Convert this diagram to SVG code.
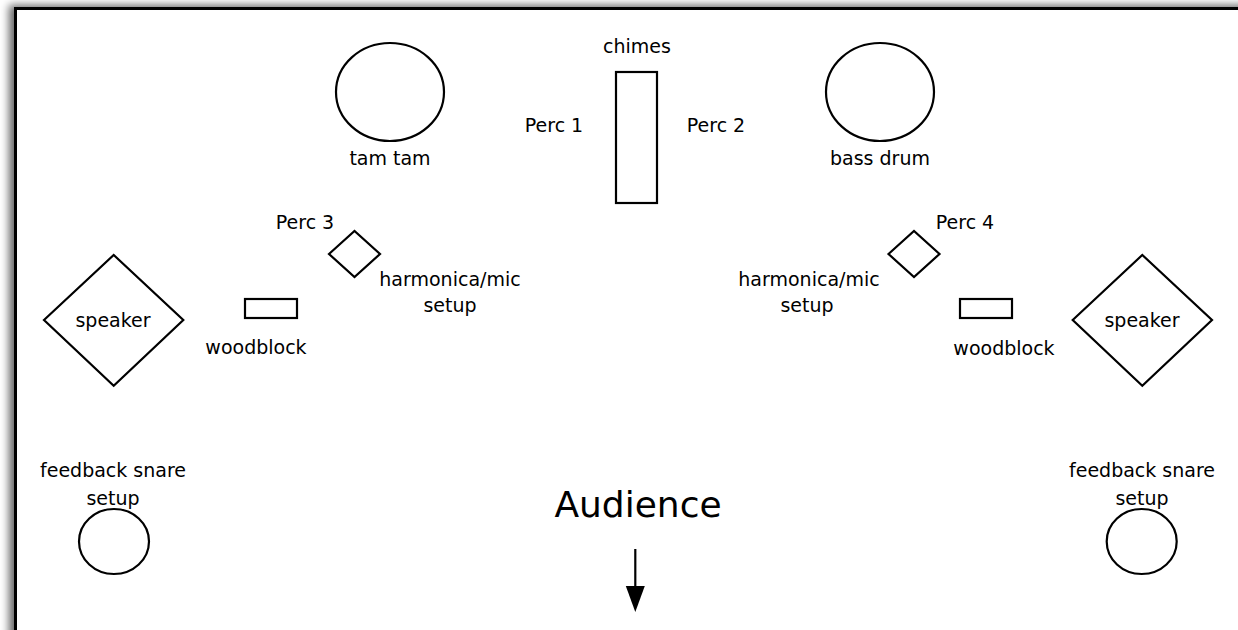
<svg xmlns="http://www.w3.org/2000/svg" width="1238" height="630" viewBox="0 0 1238 630">
<style>
.s{fill:none;stroke:#000;stroke-width:2.2}
text{font-family:"DejaVu Sans",Futura,sans-serif;font-size:19px;fill:#000;text-anchor:middle}
.big{font-size:36px}
</style>
<defs>
<filter id="sh" x="-5%" y="-5%" width="110%" height="110%">
<feDropShadow dx="-5" dy="-2" stdDeviation="4" flood-color="#000" flood-opacity="0.6"/>
</filter>
</defs>
<rect width="1238" height="630" fill="#fff"/>
<rect id="frame" x="15.5" y="8.5" width="1300" height="700" fill="#fff" stroke="#000" stroke-width="3" filter="url(#sh)"/>

<g id="tamtam"><ellipse class="s" cx="390" cy="92" rx="54" ry="49"/><text x="390" y="165">tam tam</text></g>
<g id="bassdrum"><ellipse class="s" cx="880" cy="92" rx="54" ry="49"/><text x="880" y="165">bass drum</text></g>
<g id="chimes"><rect class="s" x="616" y="72" width="41" height="131"/><text x="637" y="53">chimes</text></g>
<g id="perc1"><text x="554" y="132">Perc 1</text></g>
<g id="perc2"><text x="716" y="132">Perc 2</text></g>

<g id="perc3"><text x="305" y="229">Perc 3</text></g>
<g id="harmonica-left"><polygon class="s" points="329,254 354.5,231 380,254 354.5,277"/><text x="450" y="286">harmonica/mic</text><text x="450" y="312">setup</text></g>
<g id="woodblock-left"><rect class="s" x="245" y="299" width="52" height="19"/><text x="256" y="354">woodblock</text></g>
<g id="speaker-left"><polygon class="s" points="44,320 113.7,255 183.3,320 113.7,385.7"/><text x="113" y="327">speaker</text></g>
<g id="snare-left"><ellipse class="s" cx="114" cy="541.5" rx="35" ry="32.5"/><text x="113" y="477">feedback snare</text><text x="113" y="505">setup</text></g>

<g id="perc4"><text x="965" y="229">Perc 4</text></g>
<g id="harmonica-right"><polygon class="s" points="888.5,254 914,231 939.5,254 914,277"/><text x="809" y="286">harmonica/mic</text><text x="807" y="312">setup</text></g>
<g id="woodblock-right"><rect class="s" x="960" y="299" width="52" height="19"/><text x="1004" y="355">woodblock</text></g>
<g id="speaker-right"><polygon class="s" points="1072.7,320 1142.3,255 1212,320 1142.3,385.7"/><text x="1142" y="327">speaker</text></g>
<g id="snare-right"><ellipse class="s" cx="1141.7" cy="541.5" rx="35" ry="32.5"/><text x="1142" y="477">feedback snare</text><text x="1142" y="505">setup</text></g>

<g id="audience"><text class="big" x="638" y="517">Audience</text></g>
<g id="connectors"><line x1="635.3" y1="549" x2="635.3" y2="588" stroke="#000" stroke-width="2.2"/><polygon points="625.8,586 644.8,586 635.3,612" fill="#000"/></g>
</svg>
